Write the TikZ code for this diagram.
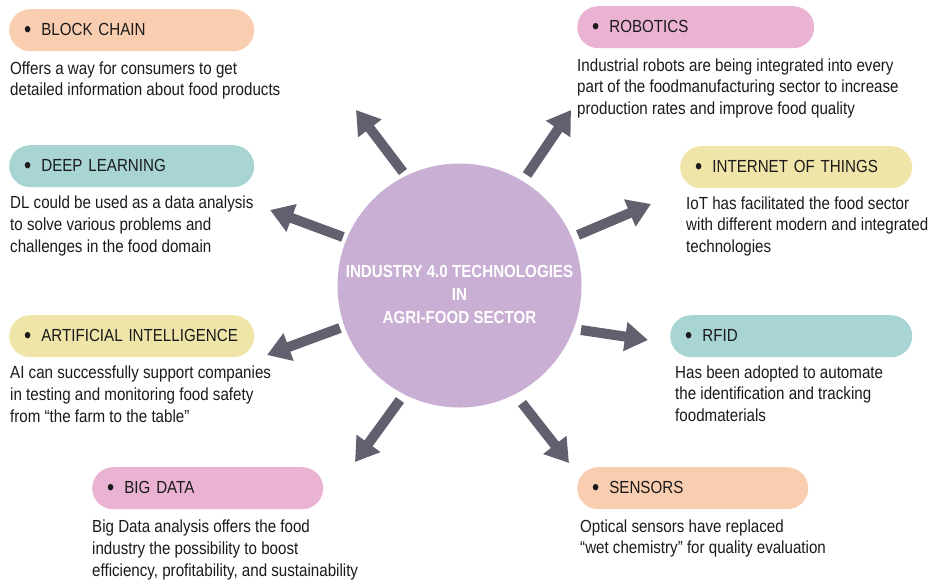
\documentclass[tikz,border=0pt]{standalone}
\usepackage{fontspec}
\setmainfont{Liberation Sans}[FakeStretch=0.865]
\usetikzlibrary{arrows.meta}
\definecolor{peach}{HTML}{F9CDB0}
\definecolor{pinkc}{HTML}{EBB3D3}
\definecolor{yellowc}{HTML}{EFE5A9}
\definecolor{tealc}{HTML}{A9D4D4}
\definecolor{hubc}{HTML}{C9AFD4}
\definecolor{arrowc}{HTML}{62606F}
\definecolor{inkc}{HTML}{1A1A1A}
\tikzset{
  pill/.style={draw=none, rounded corners=21pt, minimum height=42pt, inner xsep=15pt,
    inner ysep=0pt, anchor=north west, align=left, text=inkc,
    font=\fontsize{17.5}{20}\selectfont},
  desc/.style={anchor=base west, inner sep=0pt, align=left, text=inkc,
    font=\fontsize{17.5}{21.8}\selectfont},
  bigarrow/.style={draw=arrowc, line width=10pt,
    -{Triangle[length=23pt, width=28pt]}},
}
\newcommand{\bul}{\raisebox{-2.4pt}{\scalebox{1.35}{\textbullet}}\hspace{10pt}}
\begin{document}
\begin{tikzpicture}[x=1pt, y=-1pt]
\useasboundingbox (0,0) rectangle (933,579);

% central hub
\node[circle, fill=hubc, minimum size=244pt, inner sep=0pt] (hub) at (459.5,285.5) {};
\node[align=center, text=white, font=\bfseries\fontsize{17.5}{23}\selectfont] (hubtext)
  at (459.5,294) {INDUSTRY 4.0 TECHNOLOGIES\\IN\\AGRI-FOOD SECTOR};

% arrow end points
\coordinate (t1) at (403,172); \coordinate (h1) at (356,110);
\coordinate (t2) at (343,237); \coordinate (h2) at (270,210);
\coordinate (t3) at (527,175); \coordinate (h3) at (571,110);
\coordinate (t4) at (578,235); \coordinate (h4) at (651,204);
\coordinate (t5) at (340,328); \coordinate (h5) at (267,355);
\coordinate (t6) at (400,400); \coordinate (h6) at (355,462);
\coordinate (t7) at (581,330); \coordinate (h7) at (648,340);
\coordinate (t8) at (522,403); \coordinate (h8) at (569,463);
\foreach \i in {1,...,8} \draw[bigarrow] (t\i) -- (h\i);

% headings (text width = pill width - 30pt)
\node[pill, fill=peach,   minimum width=245pt, text width=215pt] (block)  at (9,9)    {\bul BLOCK CHAIN};
\node[pill, fill=tealc,   minimum width=245pt, text width=215pt] (deep)   at (9,145)  {\bul DEEP LEARNING};
\node[pill, fill=yellowc, minimum width=245pt, text width=215pt] (ai)     at (9,315)  {\bul ARTIFICIAL INTELLIGENCE};
\node[pill, fill=pinkc,   minimum width=231pt, text width=201pt] (big)    at (92,467) {\bul BIG DATA};
\node[pill, fill=pinkc,   minimum width=237pt, text width=207pt] (robot)  at (577,6)  {\bul ROBOTICS};
\node[pill, fill=yellowc, minimum width=232pt, text width=202pt] (iot)    at (680,146){\bul INTERNET OF THINGS};
\node[pill, fill=tealc,   minimum width=242pt, text width=212pt] (rfid)   at (670,315){\bul RFID};
\node[pill, fill=peach,   minimum width=231pt, text width=201pt] (sensor) at (577,467){\bul SENSORS};

% descriptions (anchored at the baseline of their last line)
\node[desc] (blockd) at (10,95.8) {Offers a way for consumers to get\\detailed information about food products};
\node[desc] (deepd) at (10,252) {DL could be used as a data analysis\\to solve various problems and\\challenges in the food domain};
\node[desc] (aid) at (10,422) {AI can successfully support companies\\in testing and monitoring food safety\\from “the farm to the table”};
\node[desc] (bigd) at (92,576.5) {Big Data analysis offers the food\\industry the possibility to boost\\efficiency, profitability, and sustainability};
\node[desc] (robotd) at (577,114.6) {Industrial robots are being integrated into every\\part of the foodmanufacturing sector to increase\\production rates and improve food quality};
\node[desc] (iotd) at (686,252.6) {IoT has facilitated the food sector\\with different modern and integrated\\technologies};
\node[desc] (rfidd) at (675,421.6) {Has been adopted to automate\\the identification and tracking\\foodmaterials};
\node[desc] (sensord) at (580,553.8) {Optical sensors have replaced\\“wet chemistry” for quality evaluation};
\end{tikzpicture}
\end{document}
